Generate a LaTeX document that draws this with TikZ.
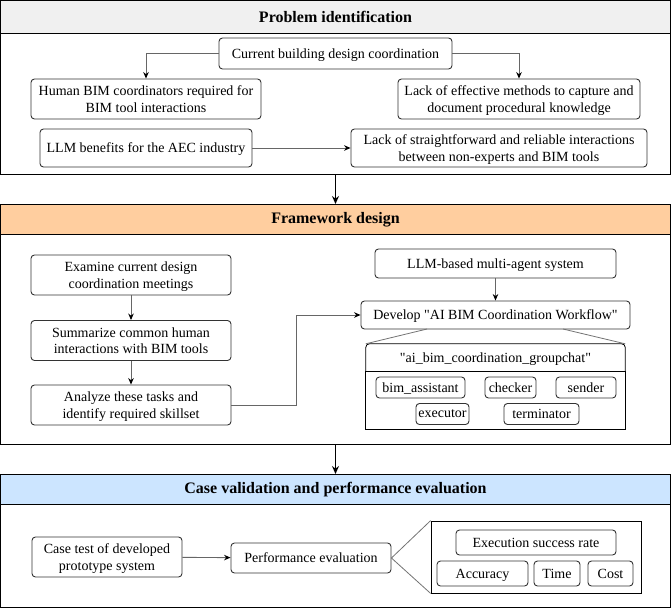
\documentclass[tikz,border=0pt]{standalone}
\usepackage{fontspec}
\setmainfont{Liberation Serif}
\usetikzlibrary{calc}
\usetikzlibrary{arrows.meta}
\definecolor{headgray}{HTML}{F0F0F0}
\definecolor{headorange}{HTML}{FFCE9F}
\definecolor{headblue}{HTML}{CCE5FF}
\def\Right{670.5}
\def\Mid{335.5}

\begin{document}
\begin{tikzpicture}[x=1pt,y=-1pt,font=\fontsize{14}{16.5}\selectfont,
  box/.style={draw=black!80, line width=0.9pt, rounded corners=3.5pt, align=center, inner sep=0pt, text depth=0pt, fill=white},
  tag/.style={box, minimum height=21pt},
  link/.style={draw=black!60, line width=0.9pt, -{Stealth[length=6.5pt,width=5.5pt,black]}},
  bigstep/.style={draw=black, line width=1.5pt, -{Stealth[length=8pt,width=7pt]}},
  funnel/.style={draw=black!55, line width=0.8pt},
  frame/.style={draw=black, line width=0.9pt},
  title/.style={font=\fontsize{16}{18}\selectfont\bfseries}]
  \useasboundingbox (0,0) rectangle (671,608);
  % problem identification
  \filldraw[frame, fill=headgray] (0.5,0.5) rectangle (\Right,33);
  \draw[frame] (0.5,33) rectangle (\Right,174);
  \node[title] (T1) at (\Mid,16.5) {Problem identification};
  \node[box, minimum width=233pt, minimum height=31pt] (cur) at (335.5,53.5) {Current building design coordination};
  \node[box, minimum width=230pt, minimum height=40pt] (human) at (146,99) {Human BIM coordinators required for\\BIM tool interactions};
  \node[box, minimum width=242pt, minimum height=40pt] (lackeff) at (519,99) {Lack of effective methods to capture and\\document procedural knowledge};
  \node[box, minimum width=212pt, minimum height=38pt] (llm) at (146,148) {LLM benefits for the AEC industry};
  \node[box, minimum width=296pt, minimum height=38pt] (lackint) at (499,148) {Lack of straightforward and reliable interactions\\between non-experts and BIM tools};
  \draw[link] (cur.west) -| (human.north);
  \draw[link] (cur.east) -| (lackeff.north);
  \draw[link] (llm.east) -- (lackint.west);
  % framework design
  \filldraw[frame, fill=headorange] (0.5,204) rectangle (\Right,234);
  \draw[frame] (0.5,234) rectangle (\Right,444);
  \node[title] (T2) at (\Mid,219.5) {Framework design};
  \draw[bigstep] (\Mid,174) -- (T2.north |- 0,204);
  \node[box, minimum width=200pt, minimum height=40pt] (exam) at (131,275) {Examine current design\\coordination meetings};
  \node[box, minimum width=200pt, minimum height=40pt] (summ) at (131,340.5) {Summarize common human\\interactions with BIM tools};
  \node[box, minimum width=200pt, minimum height=40pt] (anal) at (131,405) {Analyze these tasks and\\identify required skillset};
  \draw[link] (exam) -- (summ);
  \draw[link] (summ) -- (anal);
  \node[box, minimum width=241pt, minimum height=29pt] (mas) at (495.5,263.5) {LLM-based multi-agent system};
  \node[box, minimum width=269pt, minimum height=28pt] (dev) at (495.5,315) {Develop \textquotedbl AI BIM Coordination Workflow\textquotedbl};
  \draw[link] (mas) -- (dev);
  \draw[link] (anal.east) -- (296,405) |- (dev.west);
  % groupchat
  \node[minimum width=259pt, minimum height=27pt, inner sep=0pt, text depth=0pt] (gc) at (495.5,357.5) {\textquotedbl ai\_bim\_coordination\_groupchat\textquotedbl};
  \draw[frame, line width=0.8pt] (gc.south west) [rounded corners=3.5pt] -- (gc.north west) -- (gc.north east) [sharp corners] -- (gc.south east);
  \draw[frame, line width=0.8pt] (gc.south west) rectangle (625,429);
  \coordinate (F1) at (427,329);
  \coordinate (F2) at (563,329);
  \draw[funnel] (F1) -- (gc.north west);
  \draw[funnel] (F2) -- (gc.north east);
  \node[tag, minimum width=89pt] (bim) at (420.5,387.5) {bim\_assistant};
  \node[tag, minimum width=51pt] (checker) at (510.5,387.5) {checker};
  \node[tag, minimum width=60pt] (sender) at (586,387.5) {sender};
  \node[tag, minimum width=53pt] (executor) at (442.5,414) {executor};
  \node[tag, minimum width=75pt] (terminator) at (541.5,414) {terminator};
  % case validation
  \filldraw[frame, fill=headblue] (0.5,474) rectangle (\Right,504);
  \draw[frame] (0.5,504) rectangle (\Right,607);
  \node[title] (T3) at (\Mid,489.5) {Case validation and performance evaluation};
  \draw[bigstep] (\Mid,444) -- (T3.north |- 0,474);
  \node[box, minimum width=150pt, minimum height=40pt] (case) at (107,557) {Case test of developed\\prototype system};
  \node[box, minimum width=160pt, minimum height=30pt] (perf) at (311,558) {Performance evaluation};
  \draw[link] (case) -- (perf);
  \node[draw=black, line width=0.8pt, minimum width=210pt, minimum height=72pt, inner sep=0pt] (metric) at (536,557) {};
  \draw[funnel] (perf.east) -- (metric.north west);
  \draw[funnel] (perf.east) -- (metric.south west);
  \node[box, minimum width=160pt, minimum height=25pt] (esr) at (536,542.5) {Execution success rate};
  \node[box, minimum width=91pt, minimum height=25pt] (acc) at (482.5,573.5) {Accuracy};
  \node[box, minimum width=46pt, minimum height=25pt] (time) at (557,573.5) {Time};
  \node[box, minimum width=45pt, minimum height=25pt] (cost) at (610.5,573.5) {Cost};
\end{tikzpicture}
\end{document}
